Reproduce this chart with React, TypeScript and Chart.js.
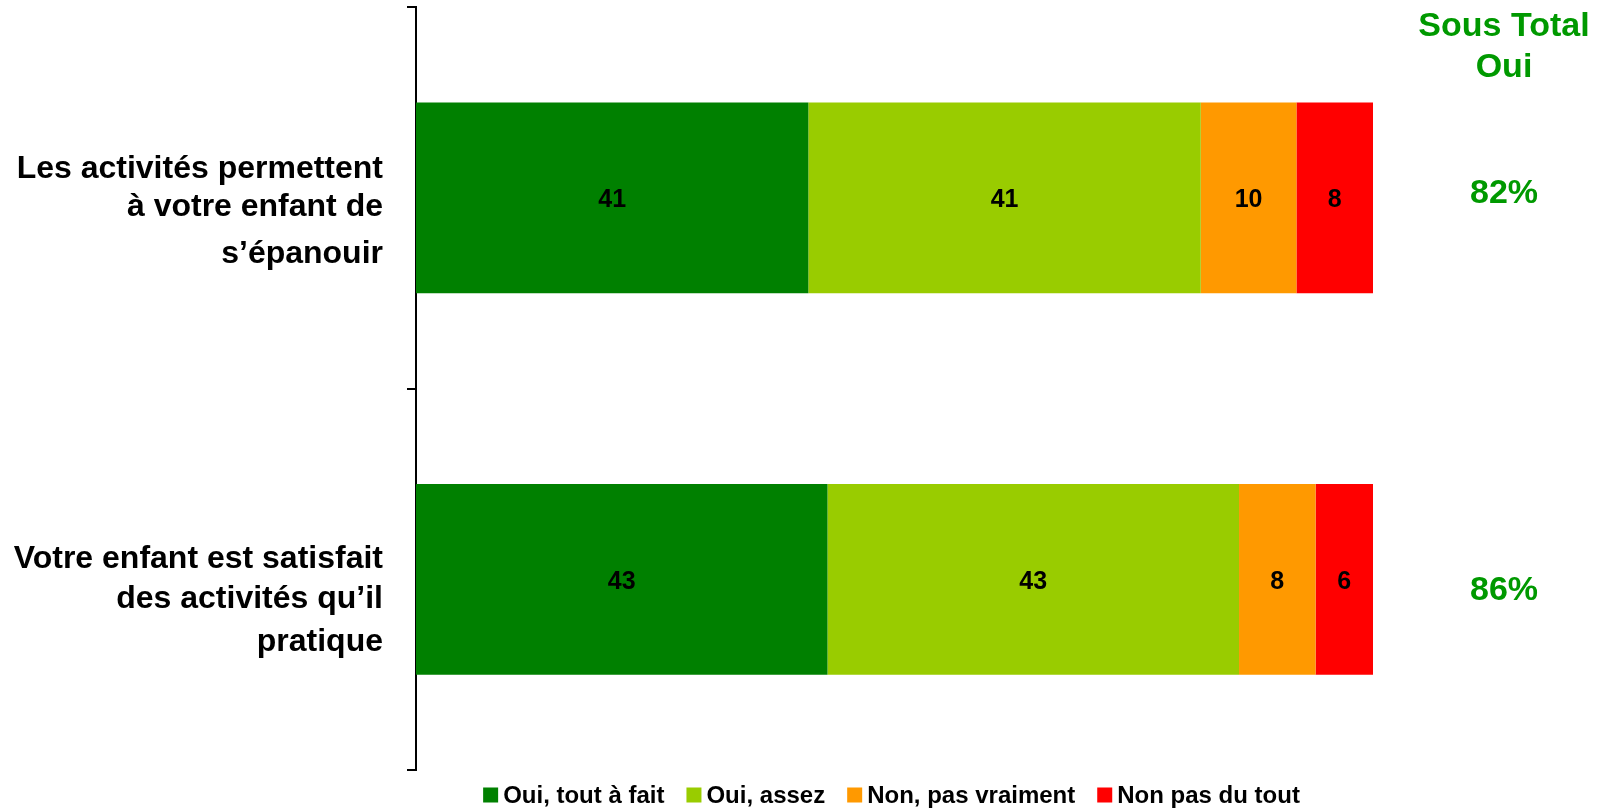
import React, { useEffect, useRef } from "react";
import { Chart, registerables } from "chart.js";

Chart.register(...registerables);

// ---- Data ----
const categories: string[][] = [
  ["Les activités permettent", "à votre enfant de", "s’épanouir"],
  ["Votre enfant est satisfait", "des activités qu’il", "pratique"],
];
const seriesNames = ["Oui, tout à fait", "Oui, assez", "Non, pas vraiment", "Non pas du tout"];
const ouiToutAFait = [41, 43];
const ouiAssez = [41, 43];
const nonPasVraiment = [10, 8];
const nonPasDuTout = [8, 6];
const sousTotalTitle = ["Sous Total", "Oui"];
const sousTotalOui = ["82%", "86%"];

// ---- Styles ----
const seriesColors = ["#008000", "#99CC00", "#FF9900", "#FF0000"];
const FONT = "'Liberation Sans', Arial, Helvetica, sans-serif";
const subtotalColor = "#009900";
const labelLineOffsets = [
  [-29, 9, 56],
  [-20, 20, 63],
];
const subtotalOffsets = [-4, 11];

const overlayPlugin = {
  id: "overlay",
  afterDatasetsDraw(chart: any) {
    const ctx = chart.ctx;
    ctx.save();
    ctx.font = `bold 25px ${FONT}`;
    ctx.fillStyle = "#000";
    ctx.textAlign = "center";
    ctx.textBaseline = "middle";
    chart.data.datasets.forEach((ds: any, di: number) => {
      const meta = chart.getDatasetMeta(di);
      meta.data.forEach((el: any, i: number) => {
        const v = ds.data[i];
        const p = el.getCenterPoint();
        ctx.fillText(String(v), p.x, p.y + 2.5);
      });
    });
    ctx.restore();
  },
  afterDraw(chart: any) {
    const ctx = chart.ctx;
    const yScale = chart.scales.y;
    const area = chart.chartArea;
    ctx.save();
    // category labels
    ctx.font = `bold 32px ${FONT}`;
    ctx.fillStyle = "#000";
    ctx.textAlign = "right";
    ctx.textBaseline = "middle";
    (chart.data.labels as string[][]).forEach((lines, i) => {
      const cy = yScale.getPixelForValue(i);
      lines.forEach((line, j) => {
        ctx.fillText(line, 383, cy + labelLineOffsets[i][j]);
      });
    });
    // subtotal column
    ctx.font = `bold 34px ${FONT}`;
    ctx.fillStyle = subtotalColor;
    ctx.textAlign = "center";
    const sx = 1504;
    ctx.fillText(sousTotalTitle[0], sx, 27);
    ctx.fillText(sousTotalTitle[1], sx, 68);
    sousTotalOui.forEach((t, i) => {
      const cy = yScale.getPixelForValue(i);
      ctx.fillText(t, sx, cy + subtotalOffsets[i]);
    });
    // legend
    ctx.font = `bold 24px ${FONT}`;
    ctx.textAlign = "left";
    const box = 15;
    const boxGap = 5;
    const itemGap = 22;
    const items = chart.data.datasets.map((ds: any) => ({
      text: ds.label,
      color: ds.backgroundColor,
      w: ctx.measureText(ds.label).width,
    }));
    const total =
      items.reduce((s: number, it: any) => s + box + boxGap + it.w, 0) + itemGap * (items.length - 1);
    let x = (area.left + area.right) / 2 - 3 - total / 2;
    const ly = 795;
    items.forEach((it: any) => {
      ctx.fillStyle = it.color;
      ctx.fillRect(x, ly - box / 2, box, box);
      ctx.fillStyle = "#000";
      ctx.fillText(it.text, x + box + boxGap, ly + 1);
      x += box + boxGap + it.w + itemGap;
    });
    ctx.restore();
  },
};

export default function App() {
  const canvasRef = useRef<HTMLCanvasElement | null>(null);

  useEffect(() => {
    if (!canvasRef.current) return;
    const seriesData = [ouiToutAFait, ouiAssez, nonPasVraiment, nonPasDuTout];
    const chart = new Chart(canvasRef.current, {
      type: "bar",
      data: {
        labels: categories as any,
        datasets: seriesNames.map((name, i) => ({
          label: name,
          data: seriesData[i],
          backgroundColor: seriesColors[i],
          borderWidth: 0,
          barPercentage: 0.5,
          categoryPercentage: 1,
        })),
      },
      options: {
        indexAxis: "y",
        responsive: false,
        animation: false,
        layout: { padding: { left: 407, right: 240, top: 7, bottom: 38 } },
        plugins: {
          legend: { display: false },
          tooltip: { enabled: false },
          title: { display: false },
        },
        scales: {
          x: {
            stacked: true,
            min: 0,
            max: 100,
            display: false,
          },
          y: {
            stacked: true,
            offset: true,
            grid: {
              display: true,
              drawOnChartArea: false,
              drawTicks: true,
              tickLength: 9,
              color: "#000",
              lineWidth: 2,
              offset: true,
            },
            border: { display: true, color: "#000", width: 2 },
            ticks: { display: false },
          },
        },
      },
      plugins: [overlayPlugin],
    });
    return () => chart.destroy();
  }, []);

  return (
    <div style={{ position: "fixed", left: 0, top: 0, width: 1613, height: 808, background: "#fff" }}>
      <canvas ref={canvasRef} width={1613} height={808} style={{ display: "block" }} />
    </div>
  );
}
